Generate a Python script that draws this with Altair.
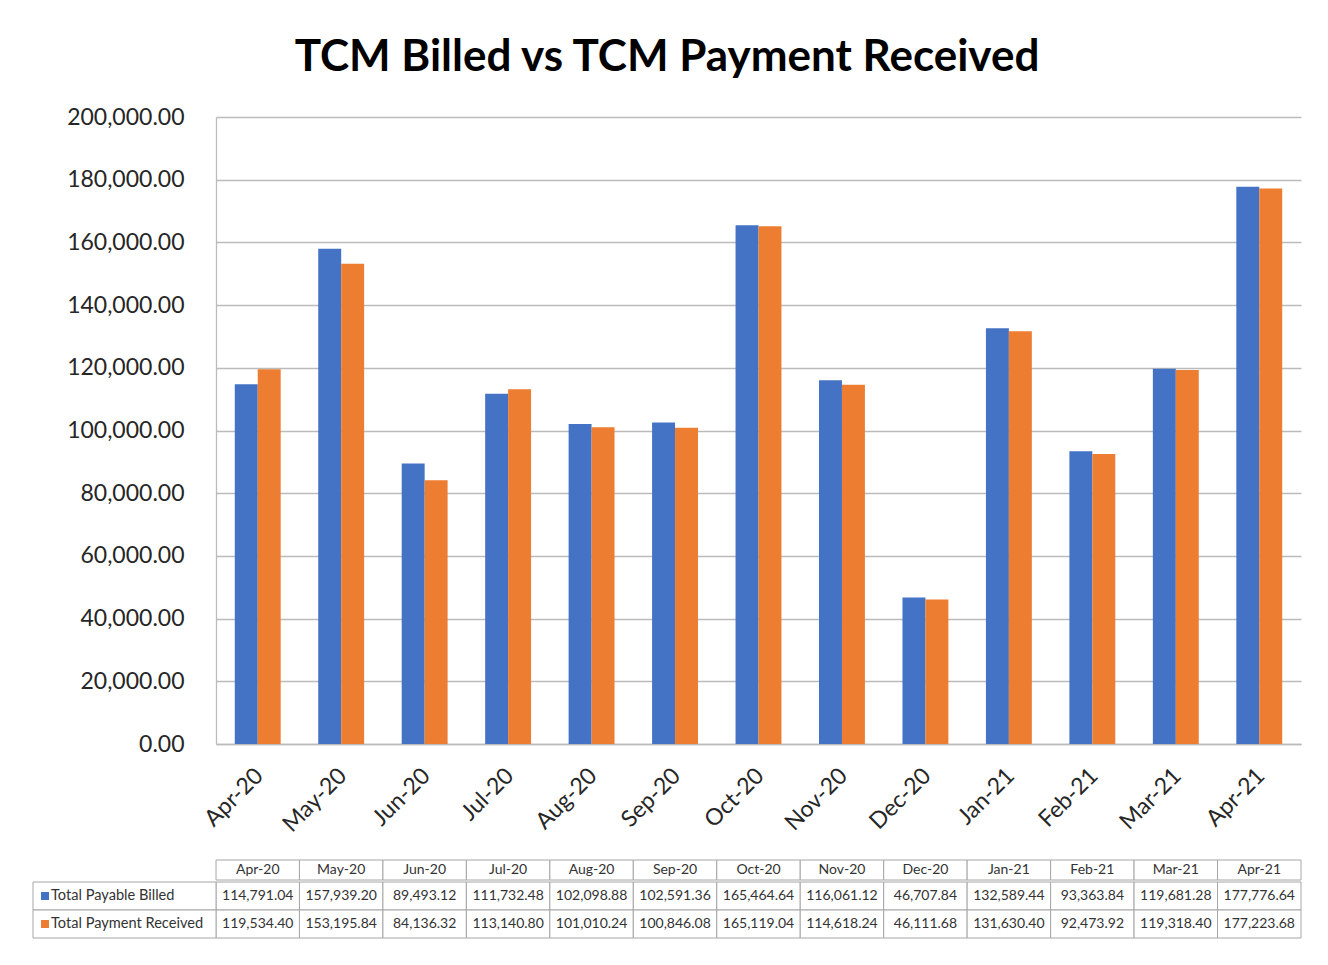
import altair as alt
import pandas as pd

months = ["Apr-20", "May-20", "Jun-20", "Jul-20", "Aug-20", "Sep-20", "Oct-20",
          "Nov-20", "Dec-20", "Jan-21", "Feb-21", "Mar-21", "Apr-21"]
billed = [114791.04, 157939.20, 89493.12, 111732.48, 102098.88, 102591.36, 165464.64,
          116061.12, 46707.84, 132589.44, 93363.84, 119681.28, 177776.64]
received = [119534.40, 153195.84, 84136.32, 113140.80, 101010.24, 100846.08, 165119.04,
            114618.24, 46111.68, 131630.40, 92473.92, 119318.40, 177223.68]
series_names = ["Total Payable Billed", "Total Payment Received"]
series_colors = ["#4472C4", "#ED7D31"]
y_ticks = [0, 20000, 40000, 60000, 80000, 100000, 120000, 140000, 160000, 180000, 200000]
title_text = "TCM Billed vs TCM Payment Received"

GRID = "#BBBBBB"
TBL = "#A6A6A6"
TXT = "#262626"
FONT = "Lato"
W = 1085

df = pd.DataFrame({
    "month": months * 2,
    "series": [series_names[0]] * len(months) + [series_names[1]] * len(months),
    "value": billed + received,
})
hdr_df = pd.DataFrame({"month": months})
ser_df = pd.DataFrame({"series": series_names})

color_scale = alt.Scale(domain=series_names, range=series_colors)

top = alt.Chart(df).mark_bar().encode(
    x=alt.X("month:N", sort=months,
            scale=alt.Scale(paddingInner=0.45, paddingOuter=0.225),
            axis=alt.Axis(title=None, labelAngle=-45, labelAlign="right", labelBaseline="top",
                          labelFontSize=23, labelColor=TXT, labelPadding=20, labelOffset=-6,
                          labelFont=FONT, ticks=False, tickSize=0, domainColor=GRID,
                          domainWidth=1.3, labelOverlap=False)),
    xOffset=alt.XOffset("series:N", sort=series_names,
                        scale=alt.Scale(paddingInner=0, paddingOuter=0)),
    y=alt.Y("value:Q", scale=alt.Scale(domain=[0, 200000], nice=False),
            axis=alt.Axis(title=None, values=y_ticks, format=",.2f", labelFontSize=23,
                          labelColor=TXT, labelPadding=32, labelFont=FONT, ticks=False,
                          tickSize=0, domainColor=GRID, domainWidth=1.3, gridColor=GRID,
                          gridWidth=1.3, labelOverlap=False)),
    color=alt.Color("series:N", scale=color_scale, legend=None),
).properties(width=W, height=627)

xt = alt.X("month:N", sort=months, scale=alt.Scale(paddingInner=0, paddingOuter=0), axis=None)

header = alt.layer(
    alt.Chart(hdr_df).mark_rect(fill="white", stroke=TBL, strokeWidth=1).encode(x=xt),
    alt.Chart(hdr_df).mark_text(fontSize=14, color="#333333", font=FONT).encode(
        x=xt, text="month:N"),
).properties(width=W, height=20)

yb = alt.Y("series:N", sort=series_names, scale=alt.Scale(paddingInner=0, paddingOuter=0),
           axis=None)

body = alt.layer(
    alt.Chart(df).mark_rect(fill="white", stroke=TBL, strokeWidth=1).encode(x=xt, y=yb),
    alt.Chart(df).mark_text(fontSize=14, color="#333333", font=FONT).encode(
        x=xt, y=yb, text=alt.Text("value:Q", format=",.2f")),
    alt.Chart(ser_df).mark_rect(fill="white", stroke=TBL, strokeWidth=1).encode(
        x=alt.value(-183), x2=alt.value(0), y=yb),
    alt.Chart(ser_df).mark_square(size=64, opacity=1).encode(
        x=alt.value(-171), y=yb, color=alt.Color("series:N", scale=color_scale, legend=None)),
    alt.Chart(ser_df).mark_text(fontSize=14.6, color="#333333", font=FONT, align="left").encode(
        x=alt.value(-165), y=yb, text="series:N"),
).properties(width=W, height=56)

table = alt.vconcat(header, body, spacing=0).resolve_scale(x="independent")

chart = alt.vconcat(top, table, spacing=22).resolve_scale(
    x="independent", color="independent"
).properties(
    title=alt.TitleParams(title_text, fontSize=44, font=FONT, fontWeight="bold",
                          anchor="middle", offset=26, color="black"),
    padding={"left": 24, "top": 28, "right": 10, "bottom": 5},
).configure(font=FONT).configure_view(stroke=None)

chart.save("out.html", embed_options={"renderer": "svg", "actions": False})
